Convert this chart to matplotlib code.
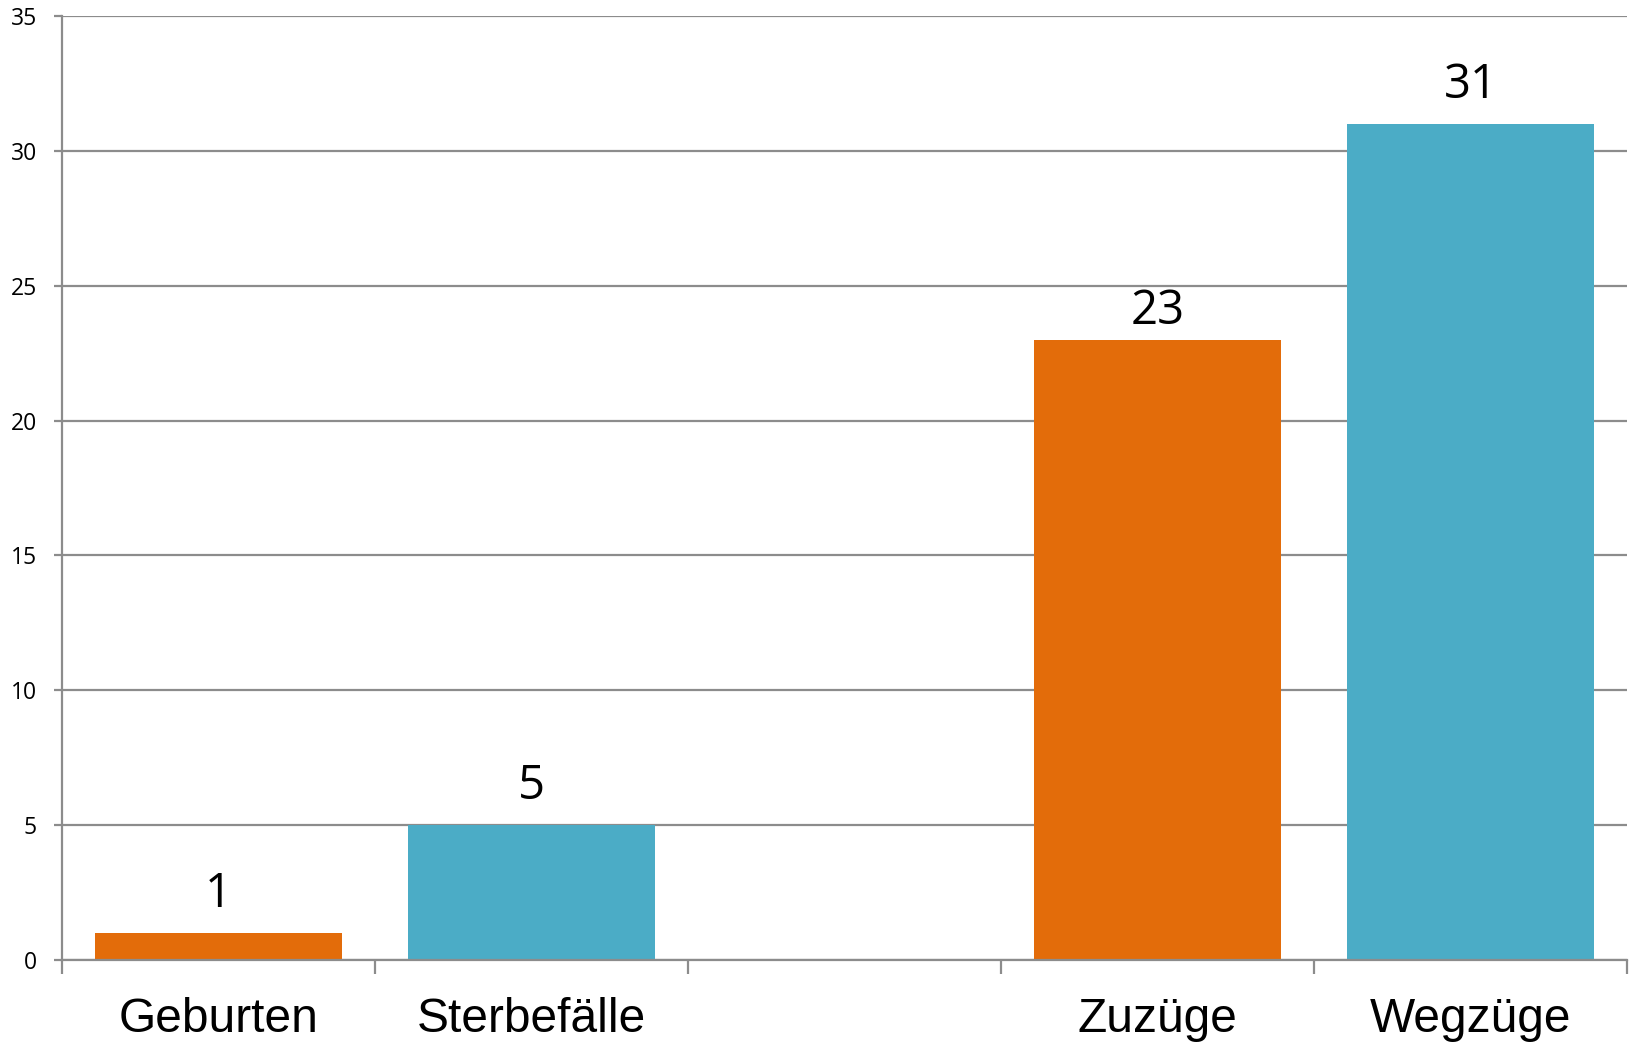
import numpy as np
import matplotlib.pyplot as plt
from matplotlib.ticker import FixedLocator

# chart data
categories = ["Geburten", "Sterbefälle", "", "Zuzüge", "Wegzüge"]
values = [1, 5, None, 23, 31]
bar_colors = ["#E36C0A", "#4BACC6", None, "#E36C0A", "#4BACC6"]
y_ticks = [0, 5, 10, 15, 20, 25, 30, 35]

grid_color = "#8C8C8C"
# label offsets above the bars (points); the Zuzüge label sits lower
label_pad = [11, 11, 0, 3, 11]

fig = plt.figure(figsize=(16.33, 10.52), dpi=100)
ax = fig.add_axes([62 / 1633, 92 / 1052, (1627 - 62) / 1633, (960 - 16) / 1052])

x = np.arange(len(categories))
for xi, v, c, pad in zip(x, values, bar_colors, label_pad):
    if v is None:
        continue
    ax.bar(xi, v, width=0.79, color=c, zorder=2)
    ax.annotate(str(v), (xi, v), xytext=(0, pad), textcoords="offset points",
                ha="center", va="bottom", fontsize=34, family="Open Sans")

ax.set_xlim(-0.5, len(categories) - 0.5)
ax.set_ylim(0, 35)

# horizontal gridlines
ax.set_yticks(y_ticks)
ax.yaxis.grid(True, color=grid_color, linewidth=1.6)
ax.set_axisbelow(True)
ax.tick_params(axis="y", length=6, width=1.6, color=grid_color, pad=12,
               labelsize=16.5)
for lbl in ax.get_yticklabels():
    lbl.set_family("Open Sans")

# category labels at centres, tick marks at boundaries
ax.set_xticks(x)
ax.set_xticklabels(categories, family="Liberation Sans", fontsize=34.5)
ax.tick_params(axis="x", which="major", length=0, pad=27)
ax.xaxis.set_minor_locator(FixedLocator(np.arange(len(categories) + 1) - 0.5))
ax.tick_params(axis="x", which="minor", length=10, width=1.6, color=grid_color)

for side in ["top", "right"]:
    ax.spines[side].set_visible(False)
for side in ["left", "bottom"]:
    ax.spines[side].set_color(grid_color)
    ax.spines[side].set_linewidth(1.6)

fig.savefig("out.png", dpi=100)
